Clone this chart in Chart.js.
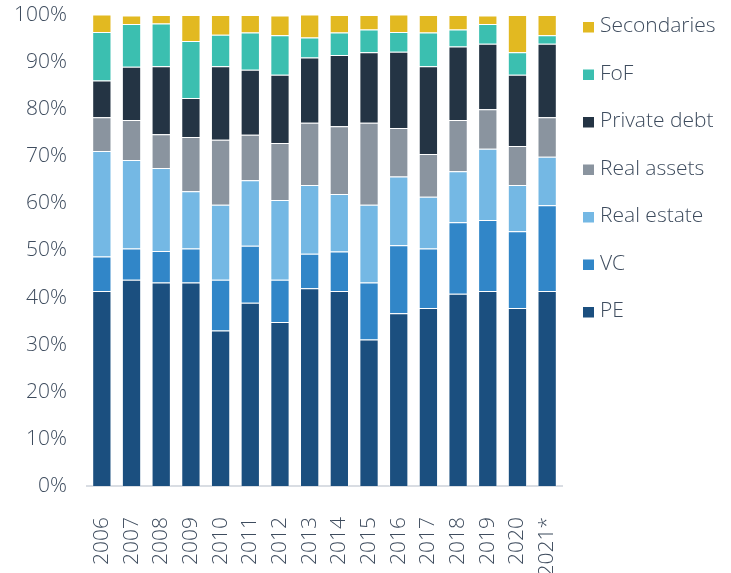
<!DOCTYPE html>
<html>
<head>
<meta charset="utf-8">
<script src="https://cdn.jsdelivr.net/npm/chart.js@4.4.1/dist/chart.umd.min.js"></script>
<style>
  body { margin: 0; background: #fff; }
  #wrap { width: 731px; height: 573px; }
</style>
</head>
<body>
<div id="wrap"><canvas id="myChart" width="731" height="573"></canvas></div>
<script>
// years on the x axis
const years = ["2006", "2007", "2008", "2009", "2010", "2011", "2012", "2013",
  "2014", "2015", "2016", "2017", "2018", "2019", "2020", "2021*"];

// shares in % (bottom to top)
const pe = [41.4, 43.8, 43.2, 43.2, 33.0, 38.9, 34.8, 42.0, 41.4, 31.1, 36.7, 37.8, 40.8, 41.4, 37.8, 41.4];
const vc = [7.3, 6.6, 6.7, 7.2, 10.8, 12.1, 9.0, 7.3, 8.4, 12.1, 14.4, 12.6, 15.2, 15.1, 16.3, 18.2];
const realEstate = [22.4, 18.8, 17.6, 12.2, 15.9, 13.9, 16.9, 14.6, 12.2, 16.5, 14.6, 11.0, 10.8, 15.1, 9.8, 10.3];
const realAssets = [7.2, 8.5, 7.2, 11.5, 13.8, 9.7, 12.1, 13.2, 14.4, 17.4, 10.3, 9.1, 10.9, 8.4, 8.3, 8.4];
const privateDebt = [7.8, 11.3, 14.4, 8.3, 15.6, 13.8, 14.5, 13.9, 15.1, 15.0, 16.2, 18.6, 15.6, 13.9, 15.1, 15.6];
const fof = [10.3, 9.1, 9.1, 12.1, 6.7, 7.9, 8.4, 4.2, 4.8, 4.8, 4.2, 7.2, 3.6, 4.2, 4.8, 1.8];
const secondaries = [3.7, 1.8, 1.8, 5.5, 4.2, 3.7, 4.2, 4.9, 3.7, 3.1, 3.7, 3.7, 3.1, 1.8, 7.9, 4.3];

const yTicks = [0, 10, 20, 30, 40, 50, 60, 70, 80, 90, 100];

const textColor = "#3e4c5e";
const fontFamily = "'Open Sans', 'Noto Sans', sans-serif";

function series(label, data, color) {
  return {
    label: label,
    data: data,
    backgroundColor: color,
    borderColor: "rgba(255,255,255,0.35)",
    borderWidth: 1,
    barPercentage: 0.65,
    categoryPercentage: 1.0
  };
}

// legend on the right, drawn on the canvas (top item = last dataset)
const sideLegend = {
  id: "sideLegend",
  afterDraw(chart) {
    const c = chart.ctx;
    const sets = chart.data.datasets.slice().reverse();
    c.save();
    c.font = "300 21px " + fontFamily;
    c.textBaseline = "alphabetic";
    c.textAlign = "left";
    sets.forEach((ds, i) => {
      const base = 32 + i * 47.5;
      c.fillStyle = ds.backgroundColor;
      c.fillRect(583, base - 10, 11, 10.5);
      c.fillStyle = textColor;
      c.fillText(ds.label, 600, base);
    });
    c.restore();
  }
};

const ctx = document.getElementById("myChart");

new Chart(ctx, {
  type: "bar",
  data: {
    labels: years,
    datasets: [
      series("PE", pe, "#1b4f7f"),
      series("VC", vc, "#3186c8"),
      series("Real estate", realEstate, "#74b8e4"),
      series("Real assets", realAssets, "#8a949f"),
      series("Private debt", privateDebt, "#243444"),
      series("FoF", fof, "#3bbfb0"),
      series("Secondaries", secondaries, "#e2b921")
    ]
  },
  plugins: [sideLegend],
  options: {
    responsive: false,
    animation: false,
    layout: { padding: { top: 15, left: 0, right: 169, bottom: 0 } },
    plugins: {
      tooltip: { enabled: false },
      legend: { display: false }
    },
    scales: {
      x: {
        stacked: true,
        grid: { display: false, drawTicks: false },
        border: { color: "#d9dde3", width: 2 },
        afterFit: (axis) => {
          axis.height = 87;
          axis.paddingLeft = 0;
          axis.paddingRight = 0;
        },
        ticks: {
          color: textColor,
          font: { family: fontFamily, size: 21, weight: 300 },
          minRotation: 90,
          maxRotation: 90,
          padding: 31,
          autoSkip: false
        }
      },
      y: {
        stacked: true,
        min: 0,
        max: 100,
        afterBuildTicks: (axis) => { axis.ticks = yTicks.map(v => ({ value: v })); },
        afterFit: (axis) => {
          axis.width = 87;
          axis.paddingTop = 0;
          axis.paddingBottom = 0;
        },
        grid: { display: false, drawTicks: false },
        border: { display: false },
        ticks: {
          color: textColor,
          font: { family: fontFamily, size: 21, weight: 300 },
          padding: 20,
          callback: (v) => v + "%"
        }
      }
    }
  }
});
</script>
</body>
</html>
